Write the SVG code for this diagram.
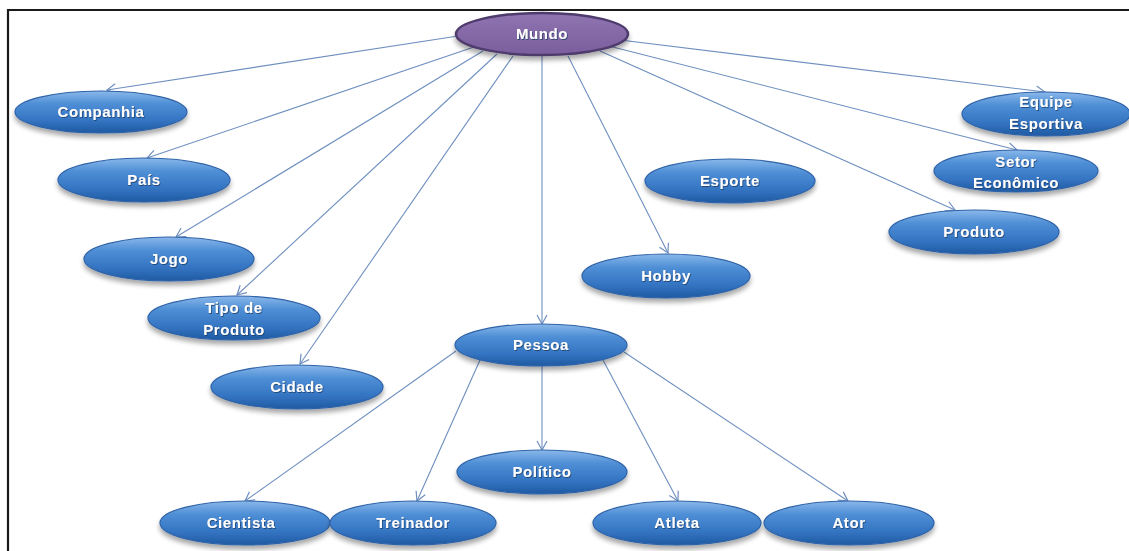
<svg xmlns="http://www.w3.org/2000/svg" width="1129" height="551" viewBox="0 0 1129 551">
  <defs>
    <linearGradient id="blue" x1="0" y1="0" x2="0" y2="1">
      <stop offset="0" stop-color="#8ab8ea"/>
      <stop offset="0.3" stop-color="#4f8fd6"/>
      <stop offset="0.7" stop-color="#3474c2"/>
      <stop offset="1" stop-color="#1f5aa2"/>
    </linearGradient>
    <linearGradient id="purple" x1="0" y1="0" x2="0" y2="1">
      <stop offset="0" stop-color="#8f74b2"/>
      <stop offset="1" stop-color="#7a5e9c"/>
    </linearGradient>
    <filter id="shadow" x="-20%" y="-30%" width="140%" height="180%">
      <feGaussianBlur in="SourceAlpha" stdDeviation="2.5"/>
      <feOffset dy="4" result="b"/>
      <feComponentTransfer><feFuncA type="linear" slope="0.35"/></feComponentTransfer>
      <feMerge><feMergeNode/><feMergeNode in="SourceGraphic"/></feMerge>
    </filter>
    <filter id="tshadow" x="-10%" y="-30%" width="120%" height="160%">
      <feDropShadow dx="0.8" dy="1" stdDeviation="0.6" flood-color="#1a3a66" flood-opacity="0.8"/>
    </filter>
    <marker id="arrow" markerWidth="12" markerHeight="12" refX="10" refY="6" orient="auto" markerUnits="userSpaceOnUse">
      <path d="M1,1 L10,6 L1,11" fill="none" stroke="#6e8fbf" stroke-width="1.2"/>
    </marker>
  </defs>
  <style>
    .node ellipse.b { fill: url(#blue); stroke: #2f63a8; stroke-width: 1.2; }
    .node ellipse.p { fill: url(#purple); stroke: #4e3a6c; stroke-width: 2.5; }
    .node text { font-family: "Liberation Sans", Arial, sans-serif; font-weight: bold; font-size: 15px; letter-spacing: 0.6px; fill: #ffffff; text-anchor: middle; filter: url(#tshadow); }
    #connectors line { stroke: #6e8fbf; stroke-width: 1.1; fill: none; marker-end: url(#arrow); }
  </style>

  <rect width="1129" height="551" fill="#ffffff"/>
  <!-- frame -->
  <path d="M8,551 L8,10 L1129,10" fill="none" stroke="#1a1a1a" stroke-width="2.2"/>

  <g id="connectors">
    <line x1="458" y1="36" x2="107" y2="90"/>
    <line x1="474" y1="47" x2="147" y2="158"/>
    <line x1="483" y1="51" x2="176" y2="237"/>
    <line x1="497" y1="54" x2="237" y2="295"/>
    <line x1="513" y1="56" x2="300" y2="364"/>
    <line x1="542" y1="56" x2="542" y2="324"/>
    <line x1="568" y1="56" x2="668" y2="253"/>
    <line x1="600" y1="51" x2="955" y2="210"/>
    <line x1="605" y1="45" x2="1017" y2="150"/>
    <line x1="612" y1="39" x2="1045" y2="92"/>
    <line x1="456" y1="351" x2="245" y2="501"/>
    <line x1="480" y1="360" x2="417" y2="501"/>
    <line x1="542" y1="366" x2="542" y2="450"/>
    <line x1="603" y1="360" x2="678" y2="501"/>
    <line x1="624" y1="352" x2="848" y2="501"/>
  </g>

  <g id="mundo" class="node" filter="url(#shadow)">
    <ellipse class="p" cx="542" cy="34" rx="86" ry="21"/>
    <text x="542" y="39">Mundo</text>
  </g>
  <g id="companhia" class="node" filter="url(#shadow)">
    <ellipse class="b" cx="101" cy="112" rx="86" ry="21"/>
    <text x="101" y="117">Companhia</text>
  </g>
  <g id="pais" class="node" filter="url(#shadow)">
    <ellipse class="b" cx="144" cy="180" rx="86" ry="22"/>
    <text x="144" y="185">País</text>
  </g>
  <g id="jogo" class="node" filter="url(#shadow)">
    <ellipse class="b" cx="169" cy="259" rx="85" ry="22"/>
    <text x="169" y="264">Jogo</text>
  </g>
  <g id="tipo-de-produto" class="node" filter="url(#shadow)">
    <ellipse class="b" cx="234" cy="318" rx="86" ry="22"/>
    <text x="234" y="313">Tipo de</text>
    <text x="234" y="335">Produto</text>
  </g>
  <g id="cidade" class="node" filter="url(#shadow)">
    <ellipse class="b" cx="297" cy="387" rx="86" ry="22"/>
    <text x="297" y="392">Cidade</text>
  </g>
  <g id="pessoa" class="node" filter="url(#shadow)">
    <ellipse class="b" cx="541" cy="345" rx="86" ry="21"/>
    <text x="541" y="350">Pessoa</text>
  </g>
  <g id="politico" class="node" filter="url(#shadow)">
    <ellipse class="b" cx="542" cy="472" rx="85" ry="22"/>
    <text x="542" y="477">Político</text>
  </g>
  <g id="cientista" class="node" filter="url(#shadow)">
    <ellipse class="b" cx="245" cy="523" rx="85" ry="22"/>
    <text x="241" y="528">Cientista</text>
  </g>
  <g id="treinador" class="node" filter="url(#shadow)">
    <ellipse class="b" cx="413" cy="523" rx="83" ry="22"/>
    <text x="413" y="528">Treinador</text>
  </g>
  <g id="atleta" class="node" filter="url(#shadow)">
    <ellipse class="b" cx="677" cy="523" rx="84" ry="22"/>
    <text x="677" y="528">Atleta</text>
  </g>
  <g id="ator" class="node" filter="url(#shadow)">
    <ellipse class="b" cx="849" cy="523" rx="85" ry="22"/>
    <text x="849" y="528">Ator</text>
  </g>
  <g id="hobby" class="node" filter="url(#shadow)">
    <ellipse class="b" cx="666" cy="276" rx="84" ry="22"/>
    <text x="666" y="281">Hobby</text>
  </g>
  <g id="esporte" class="node" filter="url(#shadow)">
    <ellipse class="b" cx="730" cy="181" rx="85" ry="22"/>
    <text x="730" y="186">Esporte</text>
  </g>
  <g id="produto" class="node" filter="url(#shadow)">
    <ellipse class="b" cx="974" cy="232" rx="85" ry="22"/>
    <text x="974" y="237">Produto</text>
  </g>
  <g id="setor-economico" class="node" filter="url(#shadow)">
    <ellipse class="b" cx="1016" cy="171" rx="82" ry="21"/>
    <text x="1016" y="167">Setor</text>
    <text x="1016" y="188">Econômico</text>
  </g>
  <g id="equipe-esportiva" class="node" filter="url(#shadow)">
    <ellipse class="b" cx="1046" cy="114" rx="84" ry="22"/>
    <text x="1046" y="107">Equipe</text>
    <text x="1046" y="129">Esportiva</text>
  </g>
</svg>
